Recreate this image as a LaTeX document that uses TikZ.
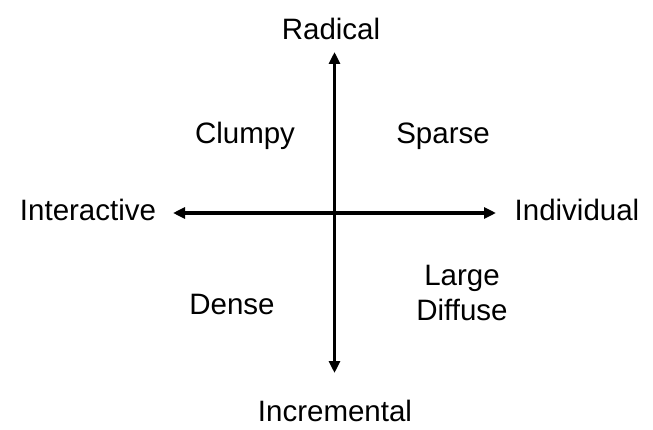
\documentclass[tikz,border=0pt]{standalone}
\usepackage{fontspec}
\setmainfont{Liberation Sans}
\usetikzlibrary{arrows.meta}
\begin{document}
\begin{tikzpicture}[x=1pt,y=-1pt,
  lbl/.style={font=\fontsize{29.5}{35}\selectfont, anchor=base, inner sep=0pt, align=center},
  axis/.style={line width=3.3pt, {Triangle[length=12pt,width=11pt]}-{Triangle[length=12pt,width=11pt]}}]
\useasboundingbox (0,0) rectangle (653,430);
\coordinate (top) at (334.5,52);
\coordinate (bot) at (334.5,373);
\coordinate (lft) at (173,213);
\coordinate (rgt) at (496,213);
\draw[axis] (bot) -- (top);
\draw[axis] (lft) -- (rgt);
\node[lbl] (radical) at (331,40) {Radical};
\node[lbl] (incremental) at (335,421) {Incremental};
\node[lbl] (interactive) at (88,221) {Interactive};
\node[lbl] (individual) at (577,221) {Individual};
\node[lbl] (clumpy) at (245,144) {Clumpy};
\node[lbl] (sparse) at (443,144) {Sparse};
\node[lbl] (dense) at (232,314) {Dense};
\node[lbl, anchor=north] (large) at (462,265) {Large\\Diffuse};
\end{tikzpicture}
\end{document}
